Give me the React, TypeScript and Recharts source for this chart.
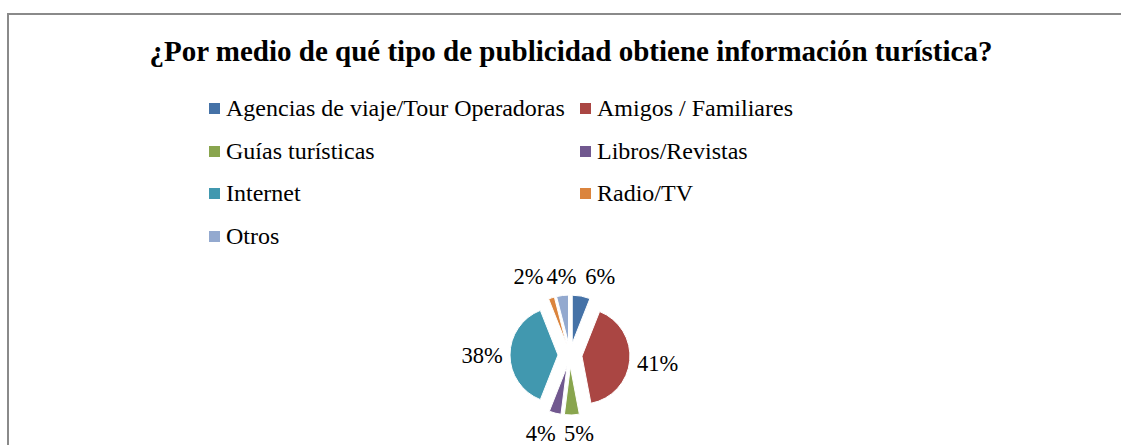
import React from "react";
import { PieChart, Pie, Cell, Sector, Legend } from "recharts";

const categories = [
  "Agencias de viaje/Tour Operadoras",
  "Amigos / Familiares",
  "Guías turísticas",
  "Libros/Revistas",
  "Internet",
  "Radio/TV",
  "Otros",
];
const values = [6, 41, 5, 4, 38, 2, 4];
const colors = ["#4572A7", "#AA4643", "#89A54E", "#71588F", "#4198AF", "#DB843D", "#93A9CF"];
const title = "¿Por medio de qué tipo de publicidad obtiene información turística?";

const data = categories.map((name, i) => ({ name, value: values[i] }));

const RAD = Math.PI / 180;
const EXPLODE = 12;
const FONT = '"Liberation Serif", "Times New Roman", serif';
const LABEL_SIZE = 22.5;

// Horizontal offsets of the small-slice labels (Excel-like rows above/below the pie),
// derived from the slice mid angles with a simple collision spreading.
const total = values.reduce((a, b) => a + b, 0);
const smallLabelDx: Record<number, number> = (() => {
  let acc = 0;
  const items: { i: number; x: number; top: boolean }[] = [];
  values.forEach((v, i) => {
    const mid = 90 - ((acc + v / 2) / total) * 360;
    acc += v;
    if (v / total <= 0.1) {
      const c = Math.cos(mid * RAD);
      const s = Math.sin(mid * RAD);
      items.push({ i, x: 4.6 + 136.6 * c, top: s > 0 });
    }
  });
  const out: Record<number, number> = {};
  [true, false].forEach((top) => {
    const row = items.filter((it) => it.top === top).sort((a, b) => a.x - b.x);
    const minGap = LABEL_SIZE * 1.333 + 3;
    for (let pass = 0; pass < 10; pass++) {
      for (let k = 0; k < row.length - 1; k++) {
        const gap = row[k + 1].x - row[k].x;
        if (gap < minGap) {
          const push = (minGap - gap) / 2;
          row[k].x -= push;
          row[k + 1].x += push;
        }
      }
    }
    row.forEach((it) => (out[it.i] = it.x));
  });
  return out;
})();

const ExplodedSlice = (props: any) => {
  const { cx, cy, midAngle } = props;
  const dx = EXPLODE * Math.cos(-midAngle * RAD);
  const dy = EXPLODE * Math.sin(-midAngle * RAD);
  return <Sector {...props} cx={cx + dx} cy={cy + dy} />;
};

const renderLabel = (props: any) => {
  const { cx, cy, midAngle, percent, index } = props;
  const c = Math.cos(-midAngle * RAD);
  const s = Math.sin(-midAngle * RAD);
  let x: number;
  let y: number;
  if (percent > 0.1) {
    x = cx + 88 * c;
    y = cy + 88 * s;
  } else {
    x = cx + (smallLabelDx[index] ?? 136.6 * c);
    y = s < 0 ? cy - 79 : cy + 78.5;
  }
  return (
    <text
      x={x}
      y={y}
      textAnchor="middle"
      dominantBaseline="central"
      fill="#000"
      style={{ fontFamily: FONT, fontSize: LABEL_SIZE }}
    >
      {`${Math.round(percent * 100)}%`}
    </text>
  );
};

const LegendContent = (props: any) => {
  const payload = props.payload && props.payload.length ? props.payload : [];
  const items = categories.map((name, i) => {
    const p = payload.find((q: any) => q.value === name);
    return { name, color: (p && p.color) || colors[i] };
  });
  return (
    <div
      style={{
        display: "grid",
        gridTemplateColumns: "371px 371px",
        gridAutoRows: "42.7px",
        fontFamily: FONT,
        fontSize: 24,
        color: "#000",
      }}
    >
      {items.map((it) => (
        <div key={it.name} style={{ display: "flex", alignItems: "center", height: 42.7, whiteSpace: "nowrap" }}>
          <span style={{ display: "inline-block", width: 11, height: 11, background: it.color, marginRight: 6 }} />
          <span style={{ fontFamily: FONT }}>{it.name}</span>
        </div>
      ))}
    </div>
  );
};

export default function App() {
  return (
    <div style={{ position: "absolute", left: 0, top: 0, width: 1121, height: 445, overflow: "hidden", background: "#fff" }}>
      <div
        style={{
          position: "absolute",
          left: 7,
          top: 13,
          width: 1200,
          height: 500,
          border: "2px solid #8a8a8a",
        }}
      />
      <div
        style={{
          position: "absolute",
          left: 0,
          top: 35,
          width: 1142,
          textAlign: "center",
          fontFamily: FONT,
          fontWeight: "bold",
          fontSize: 29,
          lineHeight: "32px",
          color: "#000",
          whiteSpace: "nowrap",
        }}
      >
        {title}
      </div>
      <div style={{ position: "absolute", left: 0, top: 0 }}>
        <PieChart width={1121} height={445} margin={{ top: 0, right: 0, bottom: 0, left: 0 }}>
          <Legend
            layout="horizontal"
            verticalAlign="middle"
            align="center"
            content={<LegendContent />}
            wrapperStyle={{ position: "absolute", left: 209, top: 87, width: 760 }}
          />
          <Pie
            data={data}
            dataKey="value"
            nameKey="name"
            cx={570}
            cy={355}
            outerRadius={48}
            startAngle={90}
            endAngle={-270}
            stroke="#fff"
            strokeWidth={1}
            isAnimationActive={false}
            label={renderLabel}
            labelLine={false}
            shape={ExplodedSlice}
          >
            {data.map((d, i) => (
              <Cell key={d.name} fill={colors[i]} />
            ))}
          </Pie>
        </PieChart>
      </div>
    </div>
  );
}
